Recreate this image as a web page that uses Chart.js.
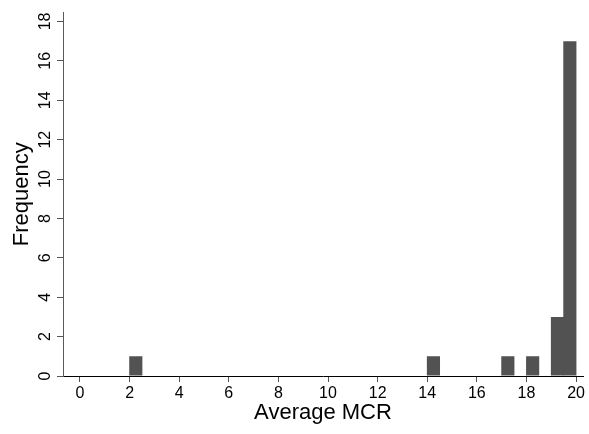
<!DOCTYPE html>
<html>
<head>
<meta charset="utf-8">
<script src="https://cdn.jsdelivr.net/npm/chart.js@4/dist/chart.umd.min.js"></script>
<style>
  html, body { margin: 0; padding: 0; background: #fff; }
  #wrap { width: 589px; height: 434px; position: relative; }
</style>
</head>
<body>
<div id="wrap"><canvas id="hist"></canvas></div>
<script>
// Histogram of average MCR (bins of width 0.5)
const binWidth = 0.5;
const binStarts = [2, 14, 17, 18, 19, 19.5];
const binCounts = [1, 1, 1, 1, 3, 17];
const xTicks = [0, 2, 4, 6, 8, 10, 12, 14, 16, 18, 20];
const yTicks = [0, 2, 4, 6, 8, 10, 12, 14, 16, 18];

const FONT = "'Liberation Sans', Arial, Helvetica, sans-serif";
const barColor = '#525252';

const points = binStarts.map((s, i) => ({ x: s + binWidth / 2, y: binCounts[i] }));

new Chart(document.getElementById('hist'), {
  type: 'bar',
  data: {
    datasets: [{
      data: points,
      backgroundColor: barColor,
      borderWidth: 0,
      barPercentage: 1.06,
      categoryPercentage: 1
    }]
  },
  options: {
    responsive: true,
    maintainAspectRatio: false,
    animation: false,
    layout: { padding: { top: 7, right: 6, left: 0, bottom: 0 } },
    plugins: { legend: { display: false }, tooltip: { enabled: false } },
    scales: {
      x: {
        type: 'linear',
        offset: false,
        min: -0.685,
        max: 20.28,
        afterBuildTicks: s => { s.ticks = xTicks.map(v => ({ value: v })); },
        afterFit: s => { s.height = 58; },
        border: { display: true, color: '#000', width: 1 },
        grid: { offset: false, drawOnChartArea: false, drawTicks: true, tickLength: 6, color: '#555' },
        ticks: {
          autoSkip: false, maxRotation: 0, padding: 2, color: '#000',
          font: { family: FONT, size: 16 }
        },
        title: {
          display: true, text: 'Average MCR', color: '#000',
          font: { family: FONT, size: 22 },
          padding: { top: 0, bottom: 8 }
        }
      },
      y: {
        min: 0,
        max: 18.45,
        afterBuildTicks: s => { s.ticks = yTicks.map(v => ({ value: v })); },
        afterFit: s => { s.width = 63; },
        border: { display: true, color: '#5a5a5a', width: 1 },
        grid: { drawOnChartArea: false, drawTicks: true, tickLength: 6, color: '#555' },
        ticks: {
          minRotation: 90, maxRotation: 90, crossAlign: 'center', padding: 3, color: '#000',
          font: { family: FONT, size: 16 }
        },
        title: {
          display: true, text: 'Frequency', color: '#000',
          font: { family: FONT, size: 22 },
          padding: { top: 9, bottom: 0 }
        }
      }
    }
  }
});
</script>
</body>
</html>
